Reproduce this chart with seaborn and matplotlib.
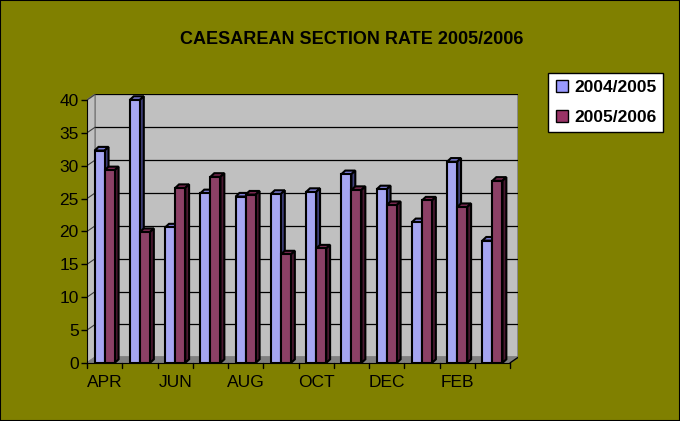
import matplotlib
matplotlib.use("Agg")
import matplotlib.pyplot as plt
from matplotlib.patches import Polygon, Rectangle
from matplotlib.lines import Line2D
import pandas as pd
import seaborn as sns

months = ["APR", "MAY", "JUN", "JUL", "AUG", "SEP", "OCT", "NOV", "DEC", "JAN", "FEB", "MAR"]
rate_0405 = [32.3, 40.0, 20.6, 25.8, 25.3, 25.7, 26.0, 28.7, 26.4, 21.4, 30.6, 18.6]
rate_0506 = [29.3, 19.9, 26.6, 28.3, 25.6, 16.5, 17.4, 26.3, 24.0, 24.7, 23.7, 27.7]
series = ["2004/2005", "2005/2006"]
x_labels = ["APR", "", "JUN", "", "AUG", "", "OCT", "", "DEC", "", "FEB", ""]

face = {"2004/2005": "#9999FF", "2005/2006": "#993366"}
side = {"2004/2005": "#3F3F7A", "2005/2006": "#4A1830"}
top = {"2004/2005": "#7C7CD6", "2005/2006": "#7A2850"}

df = pd.DataFrame({
    "month": months * 2,
    "rate": rate_0405 + rate_0506,
    "period": [series[0]] * 12 + [series[1]] * 12,
})

sns.set_style("white")
plt.rcParams["font.family"] = ["Liberation Sans", "DejaVu Sans"]
plt.rcParams["text.color"] = "black"
plt.rcParams["xtick.color"] = "black"
plt.rcParams["ytick.color"] = "black"

fig = plt.figure(figsize=(6.8, 4.21), dpi=100)
fig.patch.set_facecolor("#808000")
fig.patches.append(Rectangle((0, 0), 1, 1, transform=fig.transFigure, fill=False,
                             edgecolor="black", linewidth=1.5))

ax = fig.add_axes([0.128, 0.138, 0.634, 0.638])
ax.set_facecolor("none")

# 3D wall offsets (data units)
wdx, wdy = 0.23, 0.85
bdx, bdy = 0.11, 0.55
x0, x1 = -0.5, 11.5

# back wall, left wall, floor
ax.add_patch(Polygon([(x0 + wdx, wdy), (x1 + wdx, wdy), (x1 + wdx, 40 + wdy), (x0 + wdx, 40 + wdy)],
                     closed=True, facecolor="#C0C0C0", edgecolor="#808080", lw=1.2, zorder=0))
ax.add_patch(Polygon([(x0, 0), (x0 + wdx, wdy), (x0 + wdx, 40 + wdy), (x0, 40)],
                     closed=True, facecolor="#C0C0C0", edgecolor="#808080", lw=1.2, zorder=0))
ax.add_patch(Polygon([(x0, 0), (x1, 0), (x1 + wdx, wdy), (x0 + wdx, wdy)],
                     closed=True, facecolor="#808080", edgecolor="#808080", lw=1, zorder=0.5))
for v in range(5, 41, 5):
    ax.plot([x0 + wdx, x1 + wdx], [v + wdy, v + wdy], color="black", lw=0.9, zorder=0.3)
    ax.plot([x0, x0 + wdx], [v, v + wdy], color="#404040", lw=0.8, zorder=0.3)

sns.barplot(data=df, x="month", y="rate", hue="period", palette=face, width=0.57,
            edgecolor="black", linewidth=1.5, legend=False, ax=ax, zorder=2)

bars = sorted([p for p in ax.patches if isinstance(p, Rectangle)], key=lambda p: p.get_x())
for k, p in enumerate(bars):
    z = 2 + k * 0.02
    bx, w, h = p.get_x(), p.get_width(), p.get_height()
    name = series[0] if p.get_facecolor()[2] > 0.8 else series[1]
    ax.add_patch(Polygon([(bx, h), (bx + w, h), (bx + w + bdx, h + bdy), (bx + bdx, h + bdy)],
                         closed=True, facecolor=top[name], edgecolor="black", lw=1.5, zorder=z))
    ax.add_patch(Polygon([(bx + w, 0), (bx + w + bdx, bdy), (bx + w + bdx, h + bdy), (bx + w, h)],
                         closed=True, facecolor=side[name], edgecolor="black", lw=1.5, zorder=z))
    p.set_zorder(z + 0.01)

ax.set_xlim(x0, x1 + wdx)
ax.set_ylim(0, 40 + wdy)
ax.set_yticks(range(0, 41, 5))
ax.set_yticklabels([str(v) for v in range(0, 41, 5)], fontsize=12.5)
ax.set_xticks(range(12))
ax.set_xticklabels(x_labels, fontsize=12.5)
ax.tick_params(axis="x", length=0, pad=9)
ax.tick_params(axis="y", length=4, width=1, direction="out", pad=2, left=True)
for b in [x0 + i for i in range(13)]:
    ax.plot([b, b], [0, -0.8], color="black", lw=1, clip_on=False, zorder=5)
ax.set_xlabel("")
ax.set_ylabel("")
for s in ["top", "right"]:
    ax.spines[s].set_visible(False)
ax.spines["left"].set_bounds(0, 40)
ax.spines["bottom"].set_bounds(x0, x1)
ax.spines["left"].set_color("black")
ax.spines["bottom"].set_color("black")
ax.plot([x1, x1 + wdx], [0, wdy], color="black", lw=1, zorder=5)

fig.text(0.517, 0.905, "CAESAREAN SECTION RATE 2005/2006", ha="center", va="center",
         fontsize=13, fontweight="bold")

handles = [Line2D([], [], marker="s", linestyle="none", markersize=8,
                  markerfacecolor=face[s], markeredgecolor="black") for s in series]
leg = fig.legend(handles, series, loc="upper left", bbox_to_anchor=(0.806, 0.826),
                 frameon=True, fancybox=False, edgecolor="black", facecolor="white",
                 framealpha=1, prop={"weight": "bold", "size": 12.5}, handletextpad=0.3,
                 labelspacing=0.85, borderpad=0.4, handlelength=0.8, borderaxespad=0)
leg.get_frame().set_linewidth(1)

fig.savefig("out.png", dpi=100, facecolor=fig.get_facecolor())
